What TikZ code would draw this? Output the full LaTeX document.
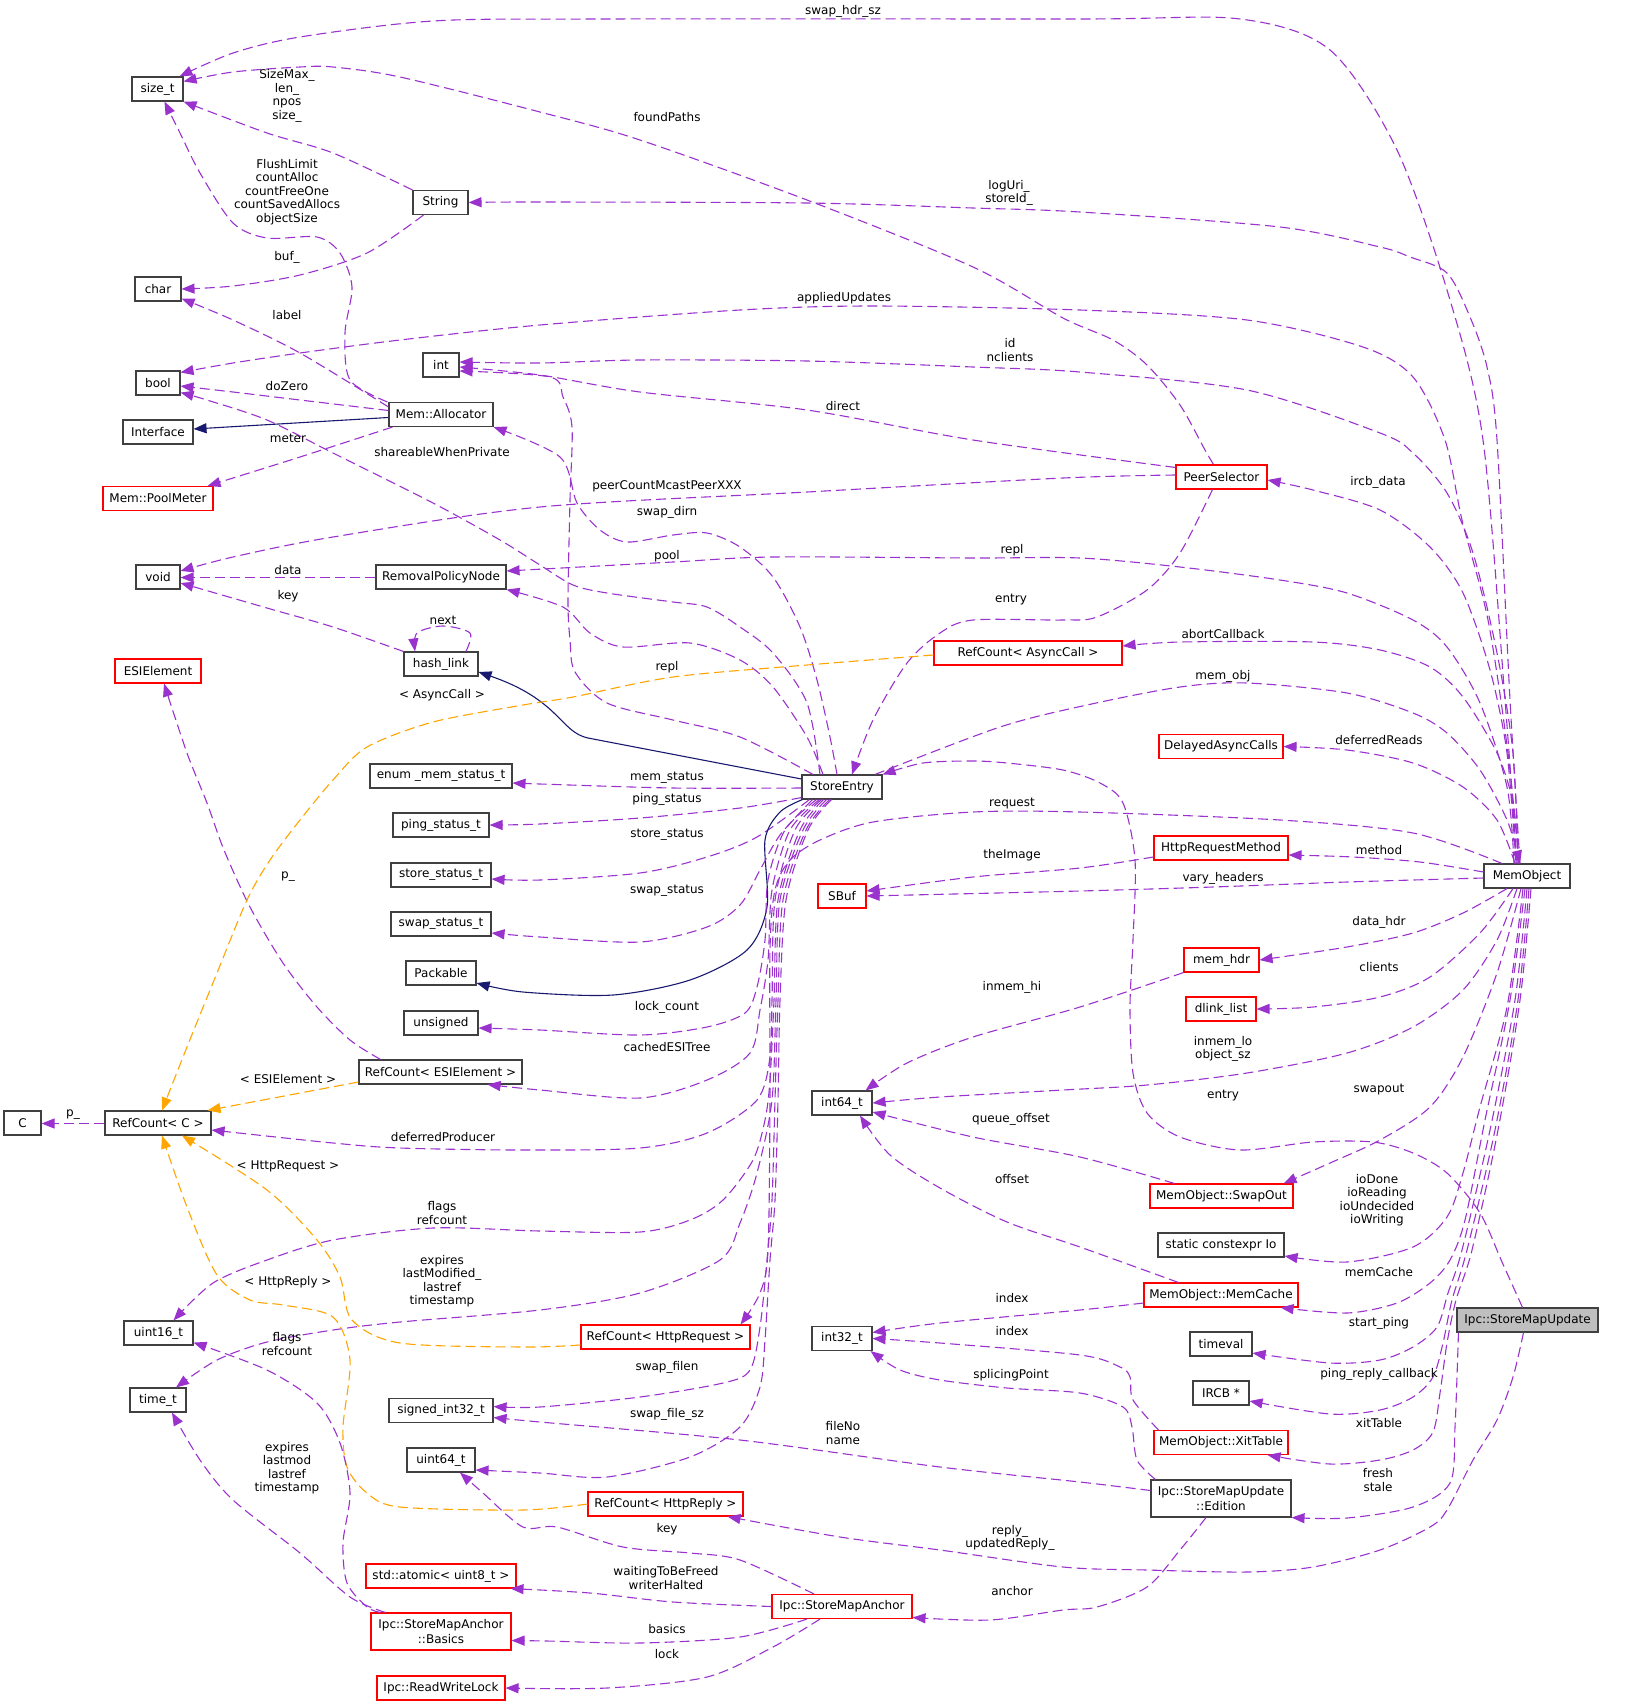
\documentclass[tikz,border=0pt]{standalone}
\usepackage{fontspec}
\setmainfont{DejaVu Sans}
\usetikzlibrary{arrows.meta}
\newcommand{\dxfont}{\fontsize{12}{13.5}\selectfont}
\newcommand{\dxnfont}{\fontsize{12}{14.5}\selectfont}
\definecolor{epurple}{HTML}{9A32CD}
\definecolor{enavy}{HTML}{191970}
\definecolor{eorange}{HTML}{FFA500}
\definecolor{bgray}{HTML}{404040}
\definecolor{ffill}{HTML}{BFBFBF}
\tikzset{
  box/.style={draw=bgray, line width=1.1pt, inner sep=0pt, minimum height=24pt, font=\dxnfont, align=center},
  redbox/.style={box, draw=red},
  tallbox/.style={minimum height=37pt},
  mem/.style={draw=epurple, line width=1.1pt, dash pattern=on 10pt off 5pt, -{Triangle[length=13pt,width=10pt]}},
  inh/.style={draw=enavy, line width=1.1pt, -{Triangle[length=13pt,width=10pt]}},
  tmpl/.style={draw=eorange, line width=1.1pt, dash pattern=on 10pt off 5pt, -{Triangle[length=13pt,width=10pt]}},
  lbl/.style={font=\dxfont, align=center, inner sep=0pt},
}
\begin{document}
\begin{tikzpicture}[x=1pt,y=-1pt]
\useasboundingbox (0,0) rectangle (1640,1706);
% ---------- nodes ----------
\node[box, minimum width=51pt] (sizet) at (157.5,89) {size\_t};
\node[box, minimum width=55pt] (string) at (440.5,202.5) {String};
\node[box, minimum width=46pt] (ndchar) at (158,289) {char};
\node[box, minimum width=44pt] (ndbool) at (158,383) {bool};
\node[box, minimum width=36pt] (ndint) at (441,365) {int};
\node[box, minimum width=104pt] (alloc) at (441,414.5) {Mem::Allocator};
\node[box, minimum width=70pt] (iface) at (158,432) {Interface};
\node[redbox, minimum width=110pt] (poolm) at (158,498.5) {Mem::PoolMeter};
\node[box, minimum width=44pt] (ndvoid) at (158,577) {void};
\node[box, minimum width=130pt] (rpn) at (441,577) {RemovalPolicyNode};
\node[box, minimum width=74pt] (hashl) at (441,664) {hash\_link};
\node[redbox, minimum width=86pt] (esi) at (158,671) {ESIElement};
\node[box, minimum width=142pt] (enm) at (441,776) {enum \_mem\_status\_t};
\node[box, minimum width=96pt] (pingst) at (441,825) {ping\_status\_t};
\node[box, minimum width=100pt] (storest) at (441,875) {store\_status\_t};
\node[box, minimum width=100pt] (swapst) at (441,924) {swap\_status\_t};
\node[box, minimum width=70pt] (pack) at (441,973) {Packable};
\node[box, minimum width=74pt] (unsig) at (441,1023) {unsigned};
\node[box, minimum width=163pt] (rcesi) at (440.5,1072) {RefCount< ESIElement >};
\node[box, minimum width=37pt] (cc) at (22.5,1123) {C};
\node[box, minimum width=106pt] (rcc) at (158,1123) {RefCount< C >};
\node[box, minimum width=69pt] (u16) at (158.5,1333) {uint16\_t};
\node[box, minimum width=56pt] (timet) at (158,1400) {time\_t};
\node[box, minimum width=104pt] (si32) at (441,1410.5) {signed\_int32\_t};
\node[box, minimum width=68pt] (u64) at (441,1460) {uint64\_t};
\node[redbox, minimum width=150pt] (atom) at (441,1576) {std::atomic< uint8\_t >};
\node[redbox, tallbox, minimum width=140pt] (basics) at (441,1631.5) {Ipc::StoreMapAnchor\\::Basics};
\node[redbox, minimum width=128pt] (rwl) at (441,1688) {Ipc::ReadWriteLock};
\node[box, minimum width=80pt] (se) at (842,787) {StoreEntry};
\node[redbox, minimum width=188pt] (rcasync) at (1028,653) {RefCount< AsyncCall >};
\node[redbox, minimum width=91pt] (peers) at (1221.5,477) {PeerSelector};
\node[redbox, minimum width=124pt] (delayed) at (1221,746.5) {DelayedAsyncCalls};
\node[redbox, minimum width=134pt] (hrm) at (1221,848) {HttpRequestMethod};
\node[redbox, minimum width=48pt] (sbuf) at (842,896) {SBuf};
\node[box, minimum width=60pt] (i64) at (842,1103) {int64\_t};
\node[box, minimum width=86pt] (memobj) at (1527,876) {MemObject};
\node[redbox, minimum width=75pt] (memhdr) at (1221.5,960) {mem\_hdr};
\node[redbox, minimum width=70pt] (dlink) at (1221,1009) {dlink\_list};
\node[redbox, minimum width=143pt] (swapout) at (1221.5,1196) {MemObject::SwapOut};
\node[box, minimum width=126pt] (io) at (1221,1245) {static constexpr Io};
\node[redbox, minimum width=154pt] (memcache) at (1221,1295) {MemObject::MemCache};
\node[box, fill=ffill, minimum width=141pt] (smu) at (1527.5,1320) {Ipc::StoreMapUpdate};
\node[box, minimum width=62pt] (timeval) at (1221,1344) {timeval};
\node[box, minimum width=56pt] (ircb) at (1221,1393) {IRCB *};
\node[redbox, minimum width=134pt] (xit) at (1221,1442.5) {MemObject::XitTable};
\node[box, tallbox, minimum width=140pt] (edition) at (1221,1498.5) {Ipc::StoreMapUpdate\\::Edition};
\node[redbox, minimum width=169pt] (rchreq) at (665.5,1337) {RefCount< HttpRequest >};
\node[box, minimum width=60pt] (i32) at (842,1338.5) {int32\_t};
\node[redbox, minimum width=155pt] (rchrep) at (665.5,1504) {RefCount< HttpReply >};
\node[redbox, minimum width=140pt] (anchor) at (842,1606.5) {Ipc::StoreMapAnchor};
% ---------- MemObject upward ----------
\draw[mem] plot[smooth] coordinates {([xshift=-10pt]memobj.north) (1505,700) (1483,440) (1450,300) (1397,150) (1330,50) (1240,19) (1080,19) (600,19) (433,21) (300,37) (233,53) ([xshift=-4pt]sizet.north east)};
\draw[mem] plot[smooth] coordinates {([xshift=-7pt]memobj.north) (1510,700) (1497,440) (1487,367) (1470,317) (1447,273) (1410,257) (1380,247) (1280,227) (1080,212) (973,208) (807,203) (540,202) (string.east)};
\draw[mem] plot[smooth] coordinates {([xshift=-8pt]memobj.north) (1508,753) (1488,620) (1462,520) (1445,440) (1413,377) (1363,347) (1247,320) (1080,310) (873,306) (740,310) (540,325) (400,340) (300,353) (233,363) ([yshift=-2pt]ndbool.north east)};
\draw[mem] plot[smooth] coordinates {([xshift=-9pt]memobj.north) (1513,753) (1497,653) (1473,553) (1447,493) (1413,453) (1380,433) (1247,390) (1080,372) (973,367) (807,361) (640,360) (540,363) ([yshift=3pt]ndint.east)};
\draw[mem] plot[smooth] coordinates {([xshift=-11pt]memobj.north) (1507,753) (1490,670) (1463,593) (1430,547) (1380,510) (1313,490) ([yshift=-3pt]peers.east)};
\draw[mem] plot[smooth] coordinates {([xshift=-13pt]memobj.north) (1507,787) (1480,703) (1447,647) (1413,620) (1347,593) (1280,580) (1180,567) (1080,558) (973,558) (773,557) (673,562) ([yshift=6pt]rpn.east)};
\draw[mem] plot[smooth] coordinates {([xshift=-8pt]memobj.north) (1513,803) (1497,753) (1463,697) (1430,667) (1380,650) (1313,642) (1180,642) ([yshift=7pt]rcasync.east)};
\draw[mem] plot[smooth] coordinates {([xshift=33pt]se.north) (1000,727) (1087,705) (1180,687) (1247,683) (1347,693) (1413,713) (1447,733) (1480,770) (1507,820) ([xshift=-7pt]memobj.north)};
\draw[mem] plot[smooth] coordinates {([xshift=-12pt]memobj.north) (1497,820) (1463,787) (1413,763) (1347,750) (delayed.east)};
% ---------- MemObject sideways/downward ----------
\draw[mem] plot[smooth] coordinates {([xshift=-25pt]memobj.north) (1413,833) (1280,820) (1080,812) (973,812) (873,822) (820,840) (790,860) (775,890) (770,950) (770,1100) (768,1250) (760,1293) ([xshift=-10pt]rchreq.north east)};
\draw[mem] plot[smooth] coordinates {([yshift=4pt]memobj.west) (1420,862) (1353,857) ([yshift=-7pt]hrm.east)};
\draw[mem] plot[smooth] coordinates {([yshift=-2pt]memobj.west) (1347,882) (1213,887) (1080,891) (sbuf.east)};
\draw[mem] plot[smooth] coordinates {([yshift=-9pt]hrm.west) (1080,868) (973,877) ([yshift=5pt]sbuf.east)};
\draw[mem] plot[smooth] coordinates {([xshift=-20pt]memobj.south) (1463,913) (1413,933) (1347,947) (memhdr.east)};
\draw[mem] plot[smooth] coordinates {([xshift=-14pt]memobj.south) (1480,933) (1430,977) (1380,997) (1313,1007) (dlink.east)};
\draw[mem] plot[smooth] coordinates {([xshift=-10pt]memobj.south) (1497,940) (1463,990) (1413,1027) (1347,1053) (1247,1073) (1147,1085) (1063,1090) (940,1097) (i64.east)};
\draw[mem] plot[smooth] coordinates {(memhdr.south west) (1080,1007) (973,1037) (907,1063) ([xshift=-7pt]i64.north east)};
\draw[mem] plot[smooth] coordinates {([xshift=-6pt]memobj.south) (1497,973) (1463,1057) (1430,1107) (1380,1140) (1330,1163) ([xshift=-10pt]swapout.north east)};
\draw[mem] plot[smooth] coordinates {([xshift=25pt]swapout.north west) (1080,1157) (973,1137) ([yshift=-9pt]i64.east)};
\draw[mem] plot[smooth] coordinates {([xshift=35pt]memcache.north west) (1080,1247) (1007,1222) (940,1188) (890,1155) ([xshift=18pt]i64.south)};
\draw[mem] plot[smooth] coordinates {([xshift=-4pt]memobj.south) (1507,1007) (1480,1107) (1463,1173) (1447,1217) (1413,1247) (1347,1262) ([yshift=-11pt]io.east)};
\draw[mem] plot[smooth] coordinates {([xshift=-2pt]memobj.south) (1510,1000) (1485,1120) (1465,1220) (1450,1260) (1430,1283) (1397,1303) (1347,1313) ([xshift=-18pt]memcache.south east)};
\draw[mem] plot[smooth] coordinates {(memobj.south) (1515,1000) (1490,1130) (1462,1250) (1448,1293) (1437,1327) (1413,1347) (1380,1360) (1330,1363) ([yshift=-9pt]timeval.east)};
\draw[mem] plot[smooth] coordinates {([xshift=2pt]memobj.south) (1518,1000) (1495,1130) (1467,1250) (1452,1300) (1443,1343) (1433,1377) (1413,1397) (1380,1410) (1330,1414) ([yshift=-8pt]ircb.east)};
\draw[mem] plot[smooth] coordinates {([xshift=4pt]memobj.south) (1520,1000) (1498,1130) (1472,1250) (1456,1300) (1447,1343) (1440,1393) (1433,1432) (1413,1450) (1380,1460) (1330,1464) ([xshift=-21pt]xit.south east)};
% ---------- StoreMapUpdate ----------
\draw[mem] plot[smooth] coordinates {([xshift=2pt]smu.south west) (1455,1427) (1450,1483) (1413,1507) (1347,1518) (edition.south east)};
\draw[mem] plot[smooth] coordinates {([xshift=-4pt]smu.south) (1513,1377) (1497,1420) (1473,1460) (1447,1510) (1430,1527) (1380,1550) (1313,1567) (1247,1572) (1147,1570) (1063,1567) (940,1550) (840,1537) ([xshift=-16pt]rchrep.south east)};
\draw[mem] plot[smooth] coordinates {([xshift=-5pt]smu.north) (1502,1262) (1480,1213) (1447,1173) (1413,1153) (1373,1142) (1313,1142) (1240,1150) (1180,1137) (1147,1113) (1133,1073) (1130,1007) (1133,940) (1135,860) (1123,803) (1100,783) (1063,770) (1007,763) (973,761) (923,763) (se.north east)};
% ---------- Edition / XitTable / MemCache ----------
\draw[mem] plot[smooth] coordinates {([xshift=-15pt]edition.south) (1180,1550) (1147,1587) (1097,1607) (1063,1610) (990,1620) ([yshift=-11pt]anchor.east)};
\draw[mem] plot[smooth] coordinates {([yshift=8pt]edition.west) (1080,1482) (940,1467) (740,1440) (540,1422) ([yshift=-7pt]si32.east)};
\draw[mem] plot[smooth] coordinates {([xshift=5pt]edition.north west) (1137,1460) (1132,1427) (1123,1407) (1080,1393) (1007,1388) (940,1380) (900,1370) ([xshift=-2pt]i32.south east)};
\draw[mem] plot[smooth] coordinates {([xshift=5pt]xit.north west) (1133,1400) (1130,1377) (1120,1367) (1080,1355) (940,1343) (i32.east)};
\draw[mem] plot[smooth] coordinates {([yshift=-8pt]memcache.west) (1080,1310) (940,1323) ([yshift=6pt]i32.east)};
% ---------- StoreEntry downward ----------
\draw[mem] plot[smooth] coordinates {([yshift=-1pt]se.west) (673,788) (540,784) ([yshift=-7pt]enm.east)};
\draw[mem] plot[smooth] coordinates {([yshift=2pt]se.south west) (740,808) (640,818) (540,824) (pingst.east)};
\draw[mem] plot[smooth] coordinates {([xshift=8pt]se.south west) (757,837) (707,857) (640,873) (540,880) ([yshift=-4pt]storest.east)};
\draw[inh] plot[smooth] coordinates {([xshift=1pt]se.south west) (780,812) (765,840) (767,907) (747,950) (690,980) (613,995) (523,992) ([yshift=-10pt]pack.east)};
\draw[mem] plot[smooth] coordinates {([xshift=11pt]se.south west) (780,835) (760,870) (740,905) (707,927) (640,942) (540,937) ([yshift=-9pt]swapst.east)};
\draw[mem] plot[smooth] coordinates {([xshift=15pt]se.south west) (785,830) (768,880) (765,940) (757,987) (745,1013) (707,1027) (640,1035) (540,1030) ([yshift=-5pt]unsig.east)};
\draw[mem] plot[smooth] coordinates {([xshift=18pt]se.south west) (790,830) (772,890) (768,960) (760,1010) (750,1053) (707,1080) (640,1098) (540,1090) ([xshift=-35pt]rcesi.south east)};
\draw[mem] plot[smooth] coordinates {([xshift=20pt]se.south west) (795,830) (775,900) (772,1000) (770,1057) (757,1100) (707,1133) (640,1148) (523,1150) (400,1148) (333,1143) ([yshift=-7pt]rcc.east)};
\draw[mem] plot[smooth] coordinates {([xshift=22pt]se.south west) (800,830) (778,900) (774,1000) (770,1080) (765,1120) (753,1160) (723,1200) (690,1220) (640,1232) (540,1231) (433,1228) (333,1240) (267,1260) (213,1283) ([xshift=15pt]u16.north)};
\draw[mem] plot[smooth] coordinates {([xshift=25pt]se.south west) (803,830) (780,900) (776,1000) (772,1100) (757,1173) (740,1223) (720,1260) (640,1293) (540,1310) (400,1322) (333,1330) (267,1342) (217,1360) ([xshift=18pt]timet.north)};
\draw[mem] plot[smooth] coordinates {([xshift=28pt]se.south west) (806,830) (783,900) (778,1000) (775,1100) (772,1200) (767,1260) (760,1327) (750,1370) (723,1383) (640,1397) (540,1407) ([yshift=4pt]si32.east)};
\draw[mem] plot[smooth] coordinates {([xshift=30pt]se.south west) (808,830) (786,900) (780,1000) (778,1100) (775,1200) (770,1260) (765,1340) (760,1387) (740,1427) (690,1457) (607,1477) (540,1473) ([yshift=-10pt]u64.east)};
% ---------- StoreEntry upward ----------
\draw[mem] plot[smooth] coordinates {([xshift=-22pt]se.north) (807,703) (773,653) (740,627) (707,607) (673,602) (607,593) (573,585) (540,565) (500,540) (433,503) (333,453) (267,420) (207,400) ([yshift=3pt]ndbool.south east)};
\draw[mem] plot[smooth] coordinates {([xshift=-29pt]se.north) (740,737) (673,720) (607,703) (575,672) (570,640) (568,600) (570,500) (572,427) (563,397) (550,377) ([yshift=-6pt]ndint.east)};
\draw[mem] plot[smooth] coordinates {([xshift=-5pt]se.north) (830,737) (817,680) (800,627) (773,577) (740,547) (707,533) (673,535) (627,542) (600,530) (577,503) (560,457) (alloc.south east)};
\draw[mem] plot[smooth] coordinates {([xshift=-19pt]se.north) (807,737) (773,687) (740,660) (690,643) (623,647) (590,633) (563,607) (rpn.south east)};
\draw[inh] ([yshift=8pt]se.west) -- (588,738) .. controls (560,732) and (560,700) .. ([yshift=-8pt]hashl.east);
% ---------- PeerSelector ----------
\draw[mem] plot[smooth] coordinates {([xshift=-8pt]peers.north) (1205,450) (1180,405) (1147,365) (1113,340) (1063,318) (973,267) (807,200) (640,140) (540,112) (400,77) (333,67) (300,67) (233,72) ([yshift=-5pt]sizet.north east)};
\draw[mem] plot[smooth] coordinates {([yshift=-3pt]peers.north west) (973,440) (807,410) (640,392) (540,375) ([yshift=-2pt]ndint.east)};
\draw[mem] plot[smooth] coordinates {([yshift=2pt]peers.west) (1063,478) (807,492) (540,507) (333,537) (233,557) ([yshift=6pt]ndvoid.east)};
\draw[mem] plot[smooth] coordinates {([xshift=-9pt]peers.south) (1180,553) (1147,590) (1097,617) (1063,620) (973,620) (940,633) (907,663) (873,720) ([xshift=10pt]se.north)};
% ---------- left column ----------
\draw[mem] plot[smooth] coordinates {([xshift=-1pt]alloc.north west) (350,380) (345,333) (352,287) (340,253) (317,237) (267,238) (233,223) (200,173) (180,133) ([xshift=7pt]sizet.south)};
\draw[mem] plot[smooth] coordinates {(string.north west) (333,153) (267,133) (sizet.south east)};
\draw[mem] plot[smooth] coordinates {([xshift=-17pt]string.south) (367,253) (300,275) (233,286) (ndchar.east)};
\draw[mem] plot[smooth] coordinates {([yshift=-5pt]alloc.north west) (300,353) (233,320) ([yshift=3pt]ndchar.south east)};
\draw[mem] plot[smooth] coordinates {([yshift=4pt]alloc.west) (300,400) (233,392) ([yshift=-3pt]ndbool.east)};
\draw[mem] plot[smooth] coordinates {([xshift=4pt]alloc.south west) (300,457) ([xshift=-6pt]poolm.north east)};
\draw[inh] ([yshift=-3pt]alloc.west) -- ([yshift=3pt]iface.east);
\draw[mem] ([yshift=-0.5pt]rpn.west) -- ([yshift=-0.5pt]ndvoid.east);
\draw[mem] plot[smooth] coordinates {(hashl.north west) (333,627) (267,608) ([yshift=-6pt]ndvoid.east)};
\draw[mem] plot[smooth] coordinates {([xshift=25pt]hashl.north) (470,633) (443,626) (417,633) ([xshift=-26pt]hashl.north)};
\draw[mem] plot[smooth] coordinates {([xshift=-60pt]rcesi.north) (350,1040) (317,1007) (283,963) (250,907) (224,850) (207,803) (187,753) ([xshift=6pt]esi.south)};
\draw[tmpl] plot[smooth] coordinates {([yshift=-10pt]rcesi.west) (300,1093) ([xshift=-4pt]rcc.north east)};
\draw[mem] ([yshift=-0.5pt]rcc.west) -- ([yshift=-0.5pt]cc.east);
\draw[tmpl] plot[smooth] coordinates {([yshift=-2pt]rcasync.west) (807,665) (673,677) (573,697) (523,705) (433,722) (367,747) (333,780) (300,820) (270,860) (247,900) (217,973) (187,1047) ([xshift=4pt]rcc.north)};
\draw[tmpl] plot[smooth] coordinates {([yshift=-8pt]rchreq.west) (523,1347) (400,1343) (352,1320) (340,1277) (317,1240) (267,1190) ([xshift=24pt]rcc.south)};
\draw[tmpl] plot[smooth] coordinates {(rchrep.west) (523,1510) (400,1507) (367,1493) (347,1467) (343,1427) (350,1360) (333,1317) (283,1305) (250,1300) (217,1275) (187,1207) ([xshift=4pt]rcc.south)};
\draw[mem] plot[smooth] coordinates {([xshift=10pt]basics.north west) (367,1607) (347,1583) (343,1543) (350,1493) (340,1443) (317,1403) (267,1370) ([yshift=3pt]u16.south east)};
\draw[mem] plot[smooth] coordinates {([xshift=15pt]basics.north west) (350,1597) (300,1553) (233,1500) (200,1460) ([xshift=14pt]timet.south)};
% ---------- StoreMapAnchor ----------
\draw[mem] plot[smooth] coordinates {([xshift=-28pt]anchor.north) (740,1560) (690,1553) (623,1547) (557,1527) (523,1527) (483,1493) ([xshift=19pt]u64.south)};
\draw[mem] plot[smooth] coordinates {(anchor.west) (673,1602) (590,1593) ([xshift=-6pt]atom.south east)};
\draw[mem] plot[smooth] coordinates {([xshift=-35pt]anchor.south) (740,1637) (640,1643) (547,1641) ([yshift=-9pt]basics.east)};
\draw[mem] plot[smooth] coordinates {([xshift=-22pt]anchor.south) (773,1647) (707,1677) (607,1688) (rwl.east)};
% ---------- labels ----------
\node[lbl] (l01) at (843,11) {swap\_hdr\_sz};
\node[lbl] (l02) at (287,96) {SizeMax\_\\len\_\\npos\\size\_};
\node[lbl] (l03) at (667,117) {foundPaths};
\node[lbl] (l04) at (287,192) {FlushLimit\\countAlloc\\countFreeOne\\countSavedAllocs\\objectSize};
\node[lbl] (l05) at (1009,193) {logUri\_\\storeId\_};
\node[lbl] (l06) at (287,257) {buf\_};
\node[lbl] (l07) at (844,298) {appliedUpdates};
\node[lbl] (l08) at (287,315) {label};
\node[lbl] (l09) at (1010,350) {id\\nclients};
\node[lbl] (l10) at (287,386) {doZero};
\node[lbl] (l11) at (288,438) {meter};
\node[lbl] (l12) at (442,452) {shareableWhenPrivate};
\node[lbl] (l13) at (843,406) {direct};
\node[lbl] (l14) at (1378,482) {ircb\_data};
\node[lbl] (l15) at (667,486) {peerCountMcastPeerXXX};
\node[lbl] (l16) at (667,512) {swap\_dirn};
\node[lbl] (l17) at (1012,550) {repl};
\node[lbl] (l18) at (667,556) {pool};
\node[lbl] (l19) at (288,570) {data};
\node[lbl] (l20) at (288,596) {key};
\node[lbl] (l21) at (443,620) {next};
\node[lbl] (l22) at (1011,600) {entry};
\node[lbl] (l23) at (1223,634) {abortCallback};
\node[lbl] (l24) at (667,667) {repl};
\node[lbl] (l25) at (442,695) {< AsyncCall >};
\node[lbl] (l26) at (1223,676) {mem\_obj};
\node[lbl] (l27) at (1379,740) {deferredReads};
\node[lbl] (l28) at (667,778) {mem\_status};
\node[lbl] (l29) at (667,799) {ping\_status};
\node[lbl] (l30) at (1012,804) {request};
\node[lbl] (l31) at (667,835) {store\_status};
\node[lbl] (l32) at (1012,855) {theImage};
\node[lbl] (l33) at (1379,850) {method};
\node[lbl] (l34) at (1223,878) {vary\_headers};
\node[lbl] (l35) at (667,891) {swap\_status};
\node[lbl] (l36) at (288,877) {p\_};
\node[lbl] (l37) at (1379,922) {data\_hdr};
\node[lbl] (l38) at (1379,967) {clients};
\node[lbl] (l39) at (1012,987) {inmem\_hi};
\node[lbl] (l40) at (667,1007) {lock\_count};
\node[lbl] (l41) at (667,1047) {cachedESITree};
\node[lbl] (l42) at (1223,1049) {inmem\_lo\\object\_sz};
\node[lbl] (l43) at (1223,1096) {entry};
\node[lbl] (l44) at (1379,1090) {swapout};
\node[lbl] (l45) at (288,1079) {< ESIElement >};
\node[lbl] (l46) at (73,1115) {p\_};
\node[lbl] (l47) at (1011,1119) {queue\_offset};
\node[lbl] (l48) at (443,1137) {deferredProducer};
\node[lbl] (l49) at (288,1166) {< HttpRequest >};
\node[lbl] (l50) at (1012,1179) {offset};
\node[lbl] (l51) at (1377,1200) {ioDone\\ioReading\\ioUndecided\\ioWriting};
\node[lbl] (l52) at (442,1213) {flags\\refcount};
\node[lbl] (l53) at (442,1281) {expires\\lastModified\_\\lastref\\timestamp};
\node[lbl] (l54) at (288,1282) {< HttpReply >};
\node[lbl] (l55) at (1379,1272) {memCache};
\node[lbl] (l56) at (1012,1298) {index};
\node[lbl] (l57) at (1012,1331) {index};
\node[lbl] (l58) at (1379,1323) {start\_ping};
\node[lbl] (l59) at (287,1344) {flags\\refcount};
\node[lbl] (l60) at (667,1367) {swap\_filen};
\node[lbl] (l61) at (1011,1375) {splicingPoint};
\node[lbl] (l62) at (1379,1374) {ping\_reply\_callback};
\node[lbl] (l63) at (667,1414) {swap\_file\_sz};
\node[lbl] (l64) at (843,1433) {fileNo\\name};
\node[lbl] (l65) at (1379,1423) {xitTable};
\node[lbl] (l66) at (287,1468) {expires\\lastmod\\lastref\\timestamp};
\node[lbl] (l67) at (1378,1480) {fresh\\stale};
\node[lbl] (l68) at (667,1529) {key};
\node[lbl] (l69) at (1010,1538) {reply\_\\updatedReply\_};
\node[lbl] (l70) at (666,1578) {waitingToBeFreed\\writerHalted};
\node[lbl] (l71) at (1012,1591) {anchor};
\node[lbl] (l72) at (667,1629) {basics};
\node[lbl] (l73) at (667,1654) {lock};
\end{tikzpicture}
\end{document}
